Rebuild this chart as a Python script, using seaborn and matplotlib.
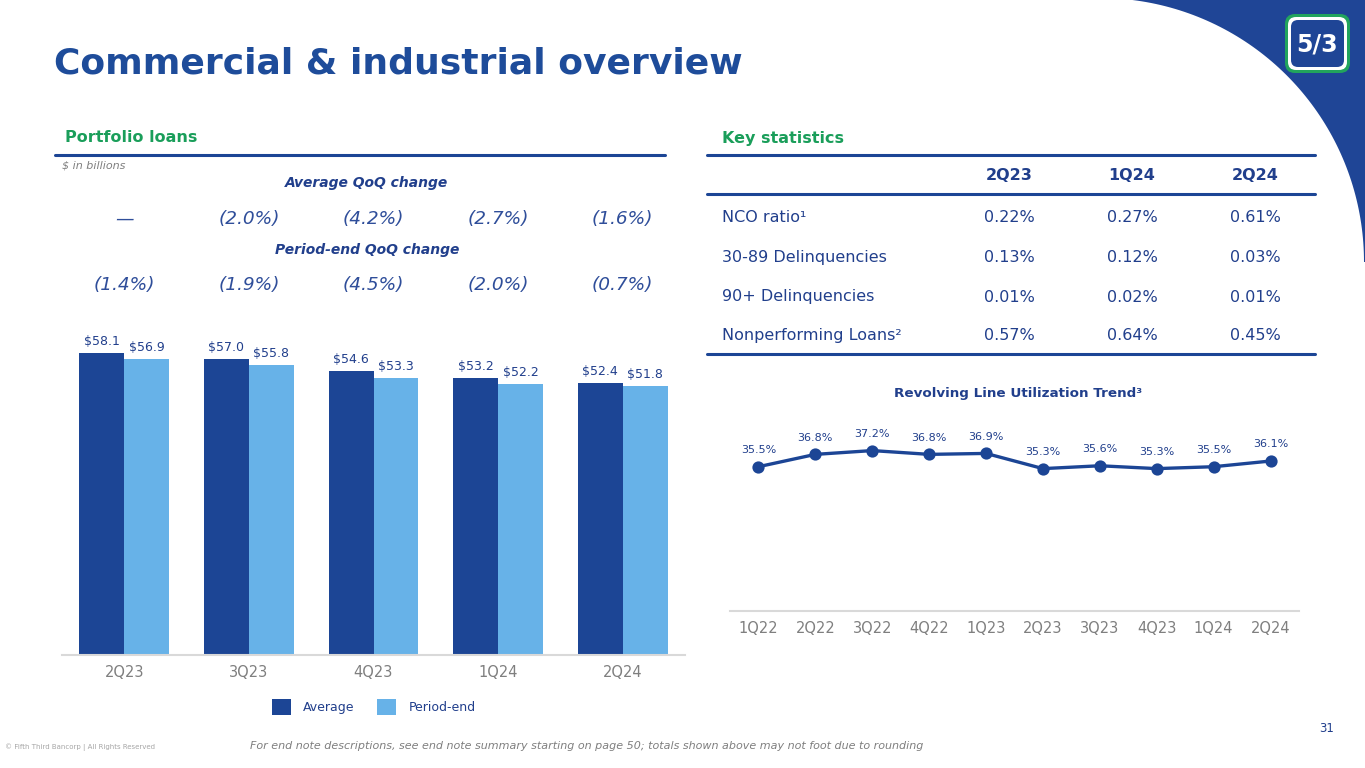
import numpy as np
import pandas as pd
import matplotlib
matplotlib.use("Agg")
import matplotlib.pyplot as plt
import matplotlib.transforms as mtransforms
from matplotlib.patches import Polygon, FancyBboxPatch, Rectangle
from matplotlib.lines import Line2D
import seaborn as sns

# ---------------- data ----------------
quarters = ["2Q23", "3Q23", "4Q23", "1Q24", "2Q24"]
avg_loans = [58.1, 57.0, 54.6, 53.2, 52.4]
pe_loans = [56.9, 55.8, 53.3, 52.2, 51.8]
avg_qoq = ["\u2014", "(2.0%)", "(4.2%)", "(2.7%)", "(1.6%)"]
pe_qoq = ["(1.4%)", "(1.9%)", "(4.5%)", "(2.0%)", "(0.7%)"]

stat_cols = ["2Q23", "1Q24", "2Q24"]
stat_rows = ["NCO ratio\u00b9", "30-89 Delinquencies", "90+ Delinquencies", "Nonperforming Loans\u00b2"]
stat_nco = ["0.22%", "0.27%", "0.61%"]
stat_3089 = ["0.13%", "0.12%", "0.03%"]
stat_90 = ["0.01%", "0.02%", "0.01%"]
stat_npl = ["0.57%", "0.64%", "0.45%"]

util_q = ["1Q22", "2Q22", "3Q22", "4Q22", "1Q23", "2Q23", "3Q23", "4Q23", "1Q24", "2Q24"]
util = [35.5, 36.8, 37.2, 36.8, 36.9, 35.3, 35.6, 35.3, 35.5, 36.1]

# ---------------- style ----------------
sns.set_theme(style="white")
plt.rcParams["font.family"] = ["DejaVu Sans"]

DARK = "#1C4595"
LIGHT = "#67B2E8"
TXT = "#213F8C"
GREEN = "#1A9E5A"
GREY = "#7F7F7F"
AXGREY = "#D9D9D9"

W, H = 1365, 768
fig = plt.figure(figsize=(W / 100, H / 100), dpi=100)
fig.patch.set_facecolor("white")


def fx(x):
    return x / W


def fy(y):
    return 1 - y / H


def axrect(l, t, r, b):
    return [fx(l), fy(b), (r - l) / W, (b - t) / H]


inch = fig.dpi_scale_trans


def ip(x, y):
    return (x / 100.0, (H - y) / 100.0)


# ---------------- decorative swoosh (top right) ----------------
cx, cy, r = 1100, 262, 264
t0 = np.arcsin(min(cy / r, 1.0))
ts = np.linspace(t0, 0, 80)
pts = [ip(cx + r * np.cos(t), cy - r * np.sin(t)) for t in ts]
pts += [ip(W + 2, cy), ip(W + 2, -2), ip(cx + r * np.cos(t0), -2)]
fig.add_artist(Polygon(pts, closed=True, transform=inch, facecolor="#1F4596", edgecolor="none", zorder=0))

# logo
def logo_box(x0, y0, x1, y1, color, rad):
    return FancyBboxPatch(ip(x0, y1), (x1 - x0) / 100, (y1 - y0) / 100,
                          boxstyle=f"round,pad=0,rounding_size={rad}", transform=inch,
                          facecolor=color, edgecolor="none", zorder=2)

fig.add_artist(logo_box(1285, 14, 1350, 73, "#22A45D", 0.10))
fig.add_artist(logo_box(1288, 17, 1347, 70, "white", 0.08))
fig.add_artist(logo_box(1291, 20, 1344, 67, "#1F4596", 0.07))
fig.text(fx(1317.5), fy(44), "5/3", color="white", fontsize=17, fontweight="bold",
         ha="center", va="center", zorder=3)

# ---------------- title ----------------
fig.text(fx(54), fy(63), "Commercial & industrial overview", color="#1E4C9A",
         fontsize=26, fontweight="bold", ha="left", va="center")

# section headers
fig.text(fx(65), fy(138), "Portfolio loans", color=GREEN, fontsize=11.5, fontweight="bold",
         ha="left", va="center")
fig.text(fx(722), fy(138), "Key statistics", color=GREEN, fontsize=11.5, fontweight="bold",
         ha="left", va="center")
fig.add_artist(Line2D([fx(55), fx(665)], [fy(155)] * 2, color=DARK, lw=2.2))
fig.add_artist(Line2D([fx(707), fx(1315)], [fy(155)] * 2, color=DARK, lw=2.2))
fig.text(fx(62), fy(166), "$ in billions", color=GREY, fontsize=8, style="italic",
         ha="left", va="center")

# ---------------- bar chart ----------------
ax = fig.add_axes(axrect(62, 343, 685, 655))
df = pd.DataFrame({
    "quarter": quarters * 2,
    "value": avg_loans + pe_loans,
    "type": ["Average"] * len(quarters) + ["Period-end"] * len(quarters),
})
sns.barplot(data=df, x="quarter", y="value", hue="type", order=quarters,
            hue_order=["Average", "Period-end"], palette=[DARK, LIGHT],
            width=0.72, saturation=1, linewidth=0, legend=False, ax=ax)
ax.set_ylim(0, 60)
ax.set_xlim(-0.5, 4.5)
for cont, vals in zip(ax.containers, [avg_loans, pe_loans]):
    ax.bar_label(cont, labels=[f"${v:.1f}" for v in vals], padding=3.5,
                 color=TXT, fontsize=9)
ax.set_xlabel("")
ax.set_ylabel("")
ax.set_yticks([])
for s in ["top", "left", "right"]:
    ax.spines[s].set_visible(False)
ax.spines["bottom"].set_color(AXGREY)
ax.spines["bottom"].set_linewidth(1.5)
ax.tick_params(axis="x", length=0, pad=7, labelsize=10.5, labelcolor=GREY)
ax.patch.set_alpha(0)

# QoQ change rows aligned to categories
bt = mtransforms.blended_transform_factory(ax.transData, fig.transFigure)
fig.text(fx(367), fy(183), "Average QoQ change", color=TXT, fontsize=10,
         fontweight="bold", style="italic", ha="center", va="center")
fig.text(fx(367), fy(250), "Period-end QoQ change", color=TXT, fontsize=10,
         fontweight="bold", style="italic", ha="center", va="center")
for i, (a, p) in enumerate(zip(avg_qoq, pe_qoq)):
    ax.text(i, fy(219), a, transform=bt, color="#2F4E9A", fontsize=13.3, style="italic",
            ha="center", va="center")
    ax.text(i, fy(285), p, transform=bt, color="#2F4E9A", fontsize=13.3, style="italic",
            ha="center", va="center")

# legend
handles = [Rectangle((0, 0), 1, 1, facecolor=DARK, edgecolor="none"),
           Rectangle((0, 0), 1, 1, facecolor=LIGHT, edgecolor="none")]
leg = ax.legend(handles, ["Average", "Period-end"], loc="center left",
                bbox_to_anchor=(fx(272), fy(707)), bbox_transform=fig.transFigure,
                ncol=2, frameon=False, fontsize=9, handlelength=1.5, handleheight=1.5,
                handletextpad=1.0, columnspacing=1.8, borderpad=0, borderaxespad=0)
for t in leg.get_texts():
    t.set_color(TXT)

# ---------------- key statistics table ----------------
col_x = [1009, 1132, 1255]
for x, c in zip(col_x, stat_cols):
    fig.text(fx(x), fy(176), c, color=TXT, fontsize=11.5, fontweight="bold",
             ha="center", va="center")
fig.add_artist(Line2D([fx(707), fx(1315)], [fy(194)] * 2, color=DARK, lw=2.2))
row_y = [218, 257, 297, 335]
for y, lab, vals in zip(row_y, stat_rows, [stat_nco, stat_3089, stat_90, stat_npl]):
    fig.text(fx(722), fy(y), lab, color=TXT, fontsize=11.5, ha="left", va="center")
    for x, v in zip(col_x, vals):
        fig.text(fx(x), fy(y), v, color=TXT, fontsize=11.5, ha="center", va="center")
fig.add_artist(Line2D([fx(707), fx(1315)], [fy(354)] * 2, color=DARK, lw=2.2))

# ---------------- utilization line chart ----------------
fig.text(fx(1018), fy(393), "Revolving Line Utilization Trend\u00b3", color=TXT,
         fontsize=9.7, fontweight="bold", ha="center", va="center")
ax2 = fig.add_axes(axrect(730, 424, 1299, 611))
sns.pointplot(x=util_q, y=util, order=util_q, color=DARK, markers="o",
              markersize=7, linewidth=2.4, errorbar=None, ax=ax2)
ax2.set_ylim(20.3, 40)
ax2.set_xlim(-0.5, len(util_q) - 0.5)
for i, v in enumerate(util):
    ax2.annotate(f"{v:.1f}%", (i, v), xytext=(0, 12), textcoords="offset points",
                 ha="center", va="center", color=TXT, fontsize=8)
ax2.set_yticks([])
ax2.set_xlabel("")
ax2.set_ylabel("")
for s in ["top", "left", "right"]:
    ax2.spines[s].set_visible(False)
ax2.spines["bottom"].set_color(AXGREY)
ax2.spines["bottom"].set_linewidth(1.5)
ax2.tick_params(axis="x", length=0, pad=7, labelsize=10.5, labelcolor=GREY)
ax2.patch.set_alpha(0)

# ---------------- footer ----------------
fig.text(fx(5), fy(747), "\u00a9 Fifth Third Bancorp | All Rights Reserved", color="#A6A6A6",
         fontsize=5, ha="left", va="center")
fig.text(fx(250), fy(746),
         "For end note descriptions, see end note summary starting on page 50; totals shown above may not foot due to rounding",
         color=GREY, fontsize=8, style="italic", ha="left", va="center")
fig.text(fx(1334), fy(728), "31", color=TXT, fontsize=8.5, ha="right", va="center")

fig.savefig("out.png", dpi=100, facecolor="white")
